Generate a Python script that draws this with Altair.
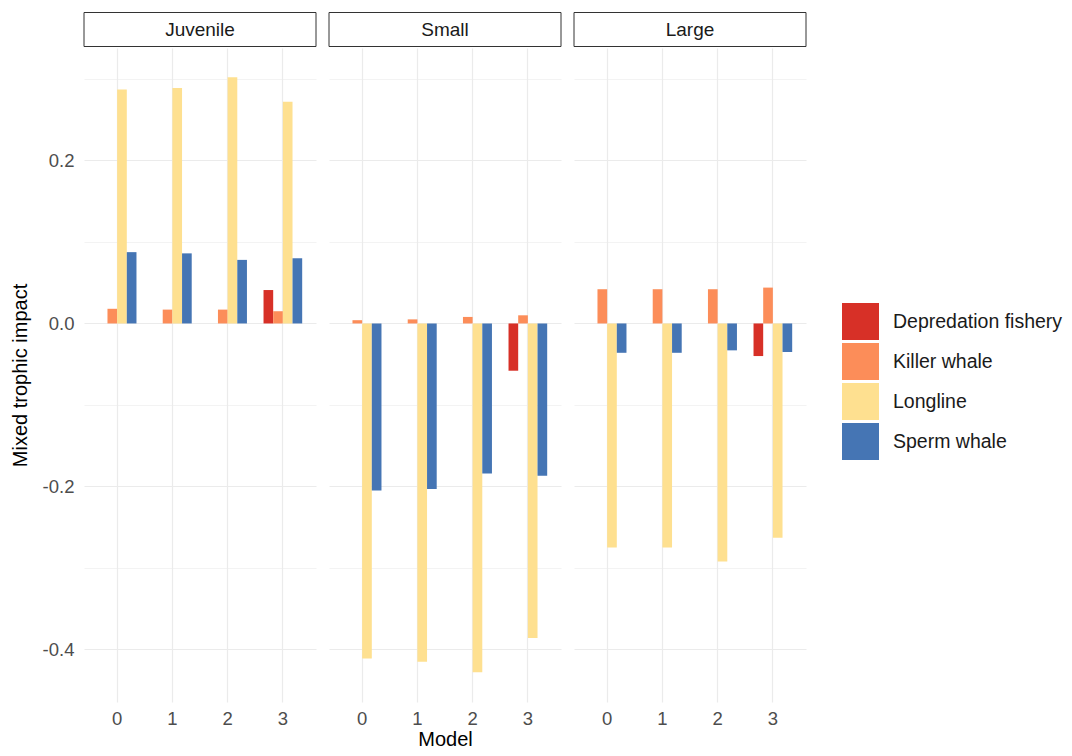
import altair as alt
import pandas as pd

sizes = ["Juvenile", "Small", "Large"]
models = [0, 1, 2, 3]
categories = ["Depredation fishery", "Killer whale", "Longline", "Sperm whale"]
colors = ["#D73027", "#FC8D59", "#FEE090", "#4575B4"]

juvenile_depredation = [None, None, None, 0.041]
juvenile_killer = [0.018, 0.017, 0.017, 0.015]
juvenile_longline = [0.287, 0.289, 0.302, 0.272]
juvenile_sperm = [0.0875, 0.086, 0.078, 0.080]

small_depredation = [None, None, None, -0.058]
small_killer = [0.004, 0.005, 0.008, 0.010]
small_longline = [-0.411, -0.415, -0.428, -0.386]
small_sperm = [-0.205, -0.203, -0.184, -0.187]

large_depredation = [None, None, None, -0.040]
large_killer = [0.042, 0.042, 0.042, 0.044]
large_longline = [-0.275, -0.275, -0.292, -0.263]
large_sperm = [-0.036, -0.036, -0.033, -0.035]

series = {
    "Juvenile": [juvenile_depredation, juvenile_killer, juvenile_longline, juvenile_sperm],
    "Small": [small_depredation, small_killer, small_longline, small_sperm],
    "Large": [large_depredation, large_killer, large_longline, large_sperm],
}

rows = []
for size in sizes:
    for cat, vals in zip(categories, series[size]):
        for m, v in zip(models, vals):
            if v is not None:
                rows.append({"Size": size, "Model": m, "Category": cat, "Value": v})
df = pd.DataFrame(rows)

grid_values = [-0.4, -0.3, -0.2, -0.1, 0.0, 0.1, 0.2, 0.3]
is_minor = "abs(round(datum.value * 10)) % 2 == 1"

PANEL_W = 232
PANEL_H = 654
FONT = "Liberation Sans"


def panel(size, first, middle):
    d = df[df.Size == size]
    yaxis = alt.Axis(
        values=grid_values,
        labelExpr=f"{is_minor} ? '' : (datum.value < 0 ? '-' : '') + format(abs(datum.value), '.1f')",
        grid=True,
        gridColor="#EBEBEB",
        gridWidth={"condition": {"test": is_minor, "value": 0.6}, "value": 1.2},
        ticks=False,
        domain=False,
        labels=first,
        labelFontSize=18.5,
        labelColor="#4D4D4D",
        labelPadding=10,
        title="Mixed trophic impact" if first else None,
        titleFontSize=20,
        titleFontWeight="normal",
        titleColor="#000000",
        titlePadding=12,
    )
    xaxis = alt.Axis(
        labelAngle=0,
        grid=True,
        gridColor="#EBEBEB",
        gridWidth=1.2,
        bandPosition=0.5,
        ticks=False,
        domain=False,
        labelFontSize=18.5,
        labelColor="#4D4D4D",
        labelPadding=7,
        title="Model" if middle else None,
        titleFontSize=20,
        titleFontWeight="normal",
        titleColor="#000000",
        titlePadding=2,
    )
    bars = alt.Chart(d).mark_bar().encode(
        x=alt.X("Model:O", scale=alt.Scale(domain=models, paddingInner=0.3, paddingOuter=0.25), axis=xaxis),
        xOffset=alt.XOffset("Category:N", scale=alt.Scale(domain=categories, paddingInner=0, paddingOuter=0)),
        y=alt.Y("Value:Q", scale=alt.Scale(domain=[-0.4645, 0.338], nice=False, zero=False), axis=yaxis),
        color=alt.Color(
            "Category:N",
            scale=alt.Scale(domain=categories, range=colors),
            legend=alt.Legend(
                title=None,
                orient="none",
                legendX=758,
                legendY=255,
                symbolType="square",
                symbolSize=1369,
                symbolStrokeWidth=0,
                labelFontSize=19.5,
                labelColor="#1A1A1A",
                labelOffset=14,
                labelLimit=400,
                rowPadding=3,
            ),
        ),
    )
    strip_df = pd.DataFrame({"label": [size]})
    strip_box = alt.Chart(strip_df).mark_rect(fill="white", stroke="#333333", strokeWidth=1).encode(
        x=alt.value(0), x2=alt.value(PANEL_W), y=alt.value(-35.5), y2=alt.value(-1.5)
    )
    strip_text = alt.Chart(strip_df).mark_text(fontSize=19, color="#1A1A1A", baseline="middle", align="center").encode(
        text="label:N", x=alt.value(PANEL_W / 2), y=alt.value(-18.5)
    )
    return alt.layer(bars, strip_box, strip_text).properties(width=PANEL_W, height=PANEL_H)


chart = alt.hconcat(
    panel("Juvenile", True, False),
    panel("Small", False, True),
    panel("Large", False, False),
    spacing=11,
).properties(
    padding={"left": 2, "top": 4, "right": 0, "bottom": 0}
).configure(
    font=FONT
).configure_view(
    stroke=None
)

chart.save("out.html", embed_options={"renderer": "svg", "actions": False})
